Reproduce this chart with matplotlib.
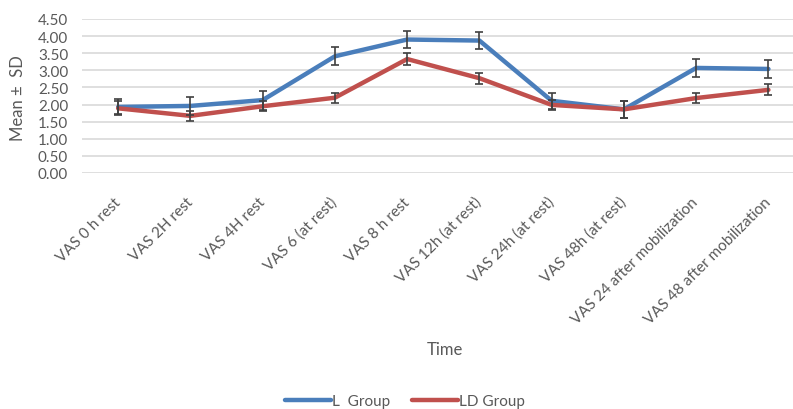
import matplotlib.pyplot as plt

times = ["VAS 0 h rest", "VAS 2H rest", "VAS 4H rest", "VAS 6 (at rest)", "VAS 8 h rest",
         "VAS 12h (at rest)", "VAS 24h (at rest)", "VAS 48h (at rest)",
         "VAS 24 after mobilization", "VAS 48 after mobilization"]

l_mean = [1.93, 1.96, 2.13, 3.41, 3.90, 3.87, 2.11, 1.86, 3.07, 3.04]
l_sd = [0.22, 0.27, 0.28, 0.26, 0.25, 0.25, 0.23, 0.25, 0.26, 0.26]

ld_mean = [1.89, 1.67, 1.95, 2.20, 3.33, 2.77, 1.99, 1.86, 2.19, 2.43]
ld_sd = [0.20, 0.15, 0.15, 0.15, 0.17, 0.16, 0.15, 0.25, 0.15, 0.16]

yticks = [0.0, 0.5, 1.0, 1.5, 2.0, 2.5, 3.0, 3.5, 4.0, 4.5]

plt.rcParams['font.family'] = ['Lato', 'DejaVu Sans']
txt = '#595959'

fig = plt.figure(figsize=(7.93, 4.10), dpi=100)
ax = fig.add_axes([82 / 793, 1 - 174 / 410, 1 - 82 / 793, 154 / 410])

x = list(range(len(times)))
ax.plot(x, l_mean, color='#4a7ebb', lw=3.2, solid_capstyle='round', label='L  Group', zorder=3)
ax.plot(x, ld_mean, color='#c0504d', lw=3.2, solid_capstyle='round', label='LD Group', zorder=3)
ax.errorbar(x, l_mean, yerr=l_sd, fmt='none', ecolor='#404040', elinewidth=1.2, capsize=3, capthick=1.2, zorder=4)
ax.errorbar(x, ld_mean, yerr=ld_sd, fmt='none', ecolor='#404040', elinewidth=1.2, capsize=3, capthick=1.2, zorder=4)

ax.set_ylim(0, 4.5)
ax.set_xlim(-0.5, len(times) - 0.66)
ax.set_yticks(yticks)
ax.set_yticklabels([f"{v:.2f}" for v in yticks], color=txt, fontsize=11)
ax.set_xticks(x)
ax.set_xticklabels(times, rotation=45, ha='right', va='center', rotation_mode='anchor',
                   color=txt, fontsize=11)
ax.tick_params(axis='both', length=0)
ax.tick_params(axis='x', pad=19)
ax.tick_params(axis='y', pad=10)
ax.grid(axis='y', color='#d9d9d9', lw=1.2)
ax.set_axisbelow(True)
for s in ax.spines.values():
    s.set_visible(False)

fig.text(18 / 793, 1 - 98 / 410, "Mean \u00b1  SD", rotation=90, ha='center', va='center',
         color=txt, fontsize=12)
fig.text(445 / 793, 1 - 350 / 410, "Time", ha='center', va='center', color=txt, fontsize=12)

fig.legend(loc='center', bbox_to_anchor=(405 / 793, 1 - 402 / 410), ncol=2, frameon=False,
           fontsize=11, labelcolor=txt, handlelength=3, handletextpad=0.1, columnspacing=1.4)

fig.savefig('out.png', dpi=100)
